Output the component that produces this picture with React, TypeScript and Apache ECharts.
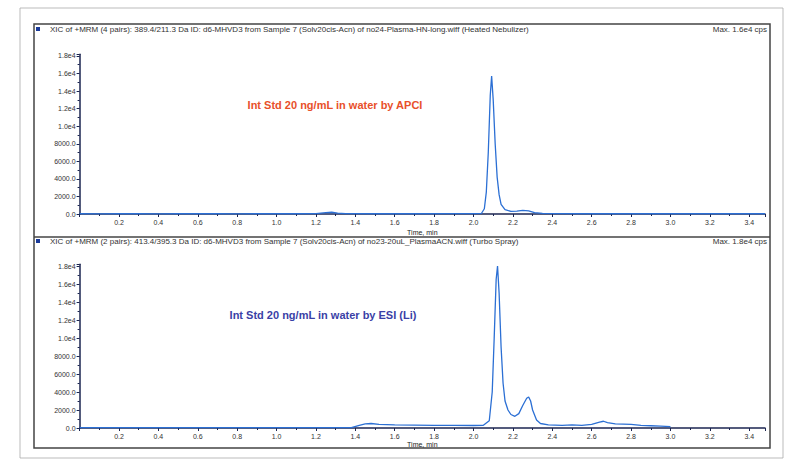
import React, { useEffect, useRef } from "react";
import * as echarts from "echarts";

const topHeader =
  "XIC of +MRM (4 pairs): 389.4/211.3 Da ID: d6-MHVD3 from Sample 7 (Solv20cis-Acn) of no24-Plasma-HN-long.wiff (Heated Nebulizer)";
const topMax = "Max. 1.6e4 cps";
const bottomHeader =
  "XIC of +MRM (2 pairs): 413.4/395.3 Da ID: d6-MHVD3 from Sample 7 (Solv20cis-Acn) of no23-20uL_PlasmaACN.wiff (Turbo Spray)";
const bottomMax = "Max. 1.8e4 cps";
const topNote = "Int Std 20 ng/mL in water by APCI";
const bottomNote = "Int Std 20 ng/mL in water by ESI (Li)";
const xName = "Time, min";

const apciTime = [
  0, 0.1, 0.2, 0.3, 0.4, 0.5, 0.6, 0.7, 0.8, 0.9, 1.0, 1.1, 1.2, 1.25, 1.28, 1.31, 1.35, 1.5, 1.7, 1.9, 2.0,
  2.04, 2.055, 2.065, 2.075, 2.085, 2.092, 2.1, 2.11, 2.12, 2.13, 2.14, 2.16, 2.19, 2.22, 2.25, 2.28, 2.31,
  2.35, 2.45, 2.6, 2.8, 3.0, 3.2, 3.48,
];
const apciIntensity = [
  30, 20, 40, 30, 20, 30, 40, 30, 20, 30, 40, 30, 50, 150, 200, 100, 40, 30, 30, 40, 40,
  60, 600, 2500, 7000, 13500, 15700, 13000, 8000, 4200, 2200, 1100, 500, 300, 330, 420, 350, 150,
  60, 40, 30, 40, 30, 30, 30,
];

const esiTime = [
  0, 0.2, 0.4, 0.6, 0.8, 1.0, 1.2, 1.38, 1.42, 1.45, 1.48, 1.52, 1.6, 1.7, 1.8, 1.9, 2.0, 2.05, 2.08,
  2.095, 2.105, 2.115, 2.122, 2.13, 2.14, 2.15, 2.16, 2.175, 2.19, 2.21, 2.23, 2.25, 2.27, 2.28, 2.29,
  2.3, 2.32, 2.34, 2.38, 2.45, 2.5, 2.55, 2.6, 2.64, 2.66, 2.68, 2.72, 2.8, 2.85, 2.9, 2.95, 3.0,
];
const esiIntensity = [
  50, 40, 50, 40, 50, 40, 50, 50, 300, 450, 500, 400, 350, 330, 300, 300, 280, 300, 800,
  4000, 10000, 16500, 18000, 15000, 9000, 5000, 3000, 2000, 1500, 1300, 1600, 2500, 3300, 3450, 3000,
  2000, 900, 500, 350, 300, 350, 300, 400, 650, 750, 600, 450, 400, 300, 250, 200, 150,
];

const pair = (xs: number[], ys: number[]) => xs.map((x, i) => [x, ys[i]]);

const FONT = "Liberation Sans";
const AXIS = "#1b2550";
const LINE = "#2b6fd4";

const yFmt = (v: number) => {
  if (v === 0) return "0.0";
  if (v < 10000) return v.toFixed(1);
  return (v / 10000).toFixed(1) + "e4";
};

function makeX(gridIndex: number, gap: number) {
  return {
    type: "value",
    gridIndex,
    min: 0,
    max: 3.48,
    interval: 0.2,
    name: xName,
    nameLocation: "middle",
    nameGap: gap,
    nameTextStyle: { fontFamily: FONT, fontSize: 7, color: "#222" },
    axisLine: { onZero: false, lineStyle: { color: AXIS, width: 1.5 } },
    axisTick: { length: 3, lineStyle: { color: AXIS } },
    minorTick: { show: true, splitNumber: 2, length: 2, lineStyle: { color: AXIS } },
    axisLabel: {
      fontFamily: FONT,
      fontSize: 7,
      color: "#333",
      margin: 5,
      showMinLabel: false,
      showMaxLabel: false,
      formatter: (v: number) => v.toFixed(1),
    },
    splitLine: { show: false },
  };
}

function makeY(gridIndex: number) {
  return {
    type: "value",
    gridIndex,
    min: 0,
    max: 18200,
    interval: 2000,
    axisLine: { show: true, lineStyle: { color: AXIS, width: 1.5 } },
    axisTick: { show: true, length: 3, lineStyle: { color: AXIS } },
    minorTick: { show: true, splitNumber: 2, length: 2, lineStyle: { color: AXIS } },
    axisLabel: {
      fontFamily: FONT,
      fontSize: 7,
      color: "#333",
      margin: 4,
      showMaxLabel: false,
      formatter: yFmt,
    },
    splitLine: { show: false },
  };
}

export default function App() {
  const ref = useRef<HTMLDivElement>(null);
  useEffect(() => {
    if (!ref.current) return;
    const chart = echarts.init(ref.current, null, { renderer: "svg" });
    chart.setOption({
      animation: false,
      backgroundColor: "#ffffff",
      grid: [
        { left: 79.6, right: 27, top: 54.2, bottom: 249 },
        { left: 79.6, right: 27, top: 264.2, bottom: 35 },
      ],
      xAxis: [makeX(0, 15), makeX(1, 12)],
      yAxis: [makeY(0), makeY(1)],
      series: [
        {
          type: "line",
          xAxisIndex: 0,
          yAxisIndex: 0,
          data: pair(apciTime, apciIntensity),
          showSymbol: false,
          symbol: "none",
          lineStyle: { color: LINE, width: 1.3 },
          z: 5,
        },
        {
          type: "line",
          xAxisIndex: 1,
          yAxisIndex: 1,
          data: pair(esiTime, esiIntensity),
          showSymbol: false,
          symbol: "none",
          lineStyle: { color: LINE, width: 1.3 },
          z: 5,
        },
      ],
      graphic: [
        {
          type: "rect",
          shape: { x: 20, y: 8, width: 763, height: 450 },
          style: { fill: "none", stroke: "#aaaaaa", lineWidth: 0.8 },
          silent: true,
        },
        {
          type: "rect",
          shape: { x: 34, y: 24, width: 736, height: 424 },
          style: { fill: "none", stroke: "#444444", lineWidth: 1.5 },
          silent: true,
        },
        {
          type: "line",
          shape: { x1: 34, y1: 237, x2: 770, y2: 237 },
          style: { stroke: "#444444", lineWidth: 1.5 },
          silent: true,
        },
        { type: "rect", shape: { x: 36, y: 27, width: 4, height: 4 }, style: { fill: "#1a3a9a" } },
        { type: "rect", shape: { x: 36, y: 239, width: 4, height: 4 }, style: { fill: "#1a3a9a" } },
        {
          type: "text",
          x: 50,
          y: 29,
          style: { text: topHeader, font: `8px ${FONT}`, fill: "#333", textVerticalAlign: "middle" },
        },
        {
          type: "text",
          x: 767,
          y: 29,
          style: { text: topMax, font: `8px ${FONT}`, fill: "#333", textAlign: "right", textVerticalAlign: "middle" },
        },
        {
          type: "text",
          x: 50,
          y: 241,
          style: { text: bottomHeader, font: `8px ${FONT}`, fill: "#333", textVerticalAlign: "middle" },
        },
        {
          type: "text",
          x: 767,
          y: 241,
          style: { text: bottomMax, font: `8px ${FONT}`, fill: "#333", textAlign: "right", textVerticalAlign: "middle" },
        },
        {
          type: "text",
          x: 335,
          y: 105,
          style: {
            text: topNote,
            font: `bold 11px ${FONT}`,
            fill: "#e8502a",
            textAlign: "center",
            textVerticalAlign: "middle",
          },
        },
        {
          type: "text",
          x: 323,
          y: 315,
          style: {
            text: bottomNote,
            font: `bold 11px ${FONT}`,
            fill: "#3a3fa6",
            textAlign: "center",
            textVerticalAlign: "middle",
          },
        },
      ],
    });
    return () => chart.dispose();
  }, []);
  return (
    <div
      ref={ref}
      style={{ position: "absolute", left: 0, top: 0, width: 792, height: 463 }}
    />
  );
}
